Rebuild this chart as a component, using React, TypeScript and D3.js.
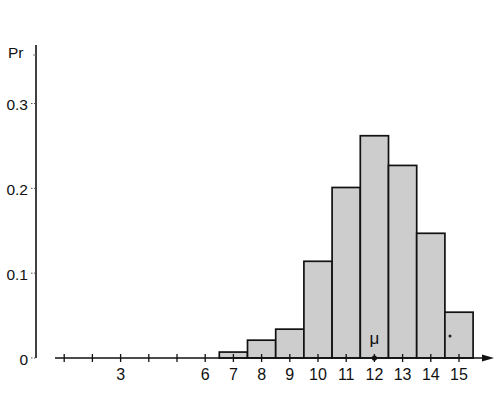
import React from "react";
import * as d3 from "d3";

const outcomes = [7, 8, 9, 10, 11, 12, 13, 14, 15];
const probs = [0.007, 0.021, 0.034, 0.114, 0.201, 0.262, 0.227, 0.147, 0.054];
const yTicks = [0, 0.1, 0.2, 0.3];
const xTickPositions = d3.range(1, 16);
const xTickLabels = [3, 6, 7, 8, 9, 10, 11, 12, 13, 14, 15];
const mu = 12;

export default function App() {
  const W = 494, H = 402;
  const x = d3.scaleLinear().domain([0, 16]).range([36, 36 + 16 * 28.2]);
  const y = d3.scaleLinear().domain([0, 0.3]).range([358, 103.5]);
  const font = "'Liberation Sans', Arial, sans-serif";
  const y0 = y(0);
  return (
    <svg width={W} height={H} style={{ position: "absolute", left: 0, top: 0, background: "#fff" }}>
      {/* bars */}
      {outcomes.map((o, i) => (
        <rect
          key={o}
          x={x(o - 0.5)}
          y={y(probs[i])}
          width={x(o + 0.5) - x(o - 0.5)}
          height={y0 - y(probs[i])}
          fill="#cdcdcd"
          stroke="#111"
          strokeWidth={1.7}
        />
      ))}
      {/* y axis */}
      <line x1={36} x2={36} y1={45} y2={358} stroke="#111" strokeWidth={1.6} />
      {yTicks.map((t) => (
        <g key={t}>
          <line x1={31} x2={36} y1={y(t)} y2={y(t)} stroke="#555" strokeWidth={1} strokeDasharray="1.5,1.5" />
          <text x={28} y={y(t) + 1} textAnchor="end" dominantBaseline="central" fontFamily={font} fontSize={15.5} fill="#111">
            {t === 0 ? "0" : d3.format(".1f")(t)}
          </text>
        </g>
      ))}
      <line x1={33} x2={36} y1={55} y2={55} stroke="#777" strokeWidth={1} />
      <text x={8} y={52} dominantBaseline="central" fontFamily={font} fontSize={15.5} fill="#111">Pr</text>
      {/* x axis */}
      <line x1={55} x2={484} y1={y0} y2={y0} stroke="#111" strokeWidth={1.4} />
      <path d={`M482,${y0 - 3.5} L494,${y0} L482,${y0 + 3.5} Z`} fill="#111" />
      {xTickPositions.map((t) => (
        <line key={t} x1={x(t)} x2={x(t)} y1={y0 - 4} y2={y0 + 4} stroke="#111" strokeWidth={1.3} />
      ))}
      {xTickLabels.map((t) => (
        <text key={t} x={x(t)} y={y0 + 16.5} textAnchor="middle" dominantBaseline="central" fontFamily={font} fontSize={16} fill="#111">
          {t}
        </text>
      ))}
      {/* mu */}
      <circle cx={x(mu)} cy={y0} r={2.6} fill="#111" />
      <text x={x(mu)} y={344} textAnchor="middle" fontFamily={font} fontSize={17} fill="#111">μ</text>
      <circle cx={450} cy={336} r={1.5} fill="#222" />
    </svg>
  );
}
